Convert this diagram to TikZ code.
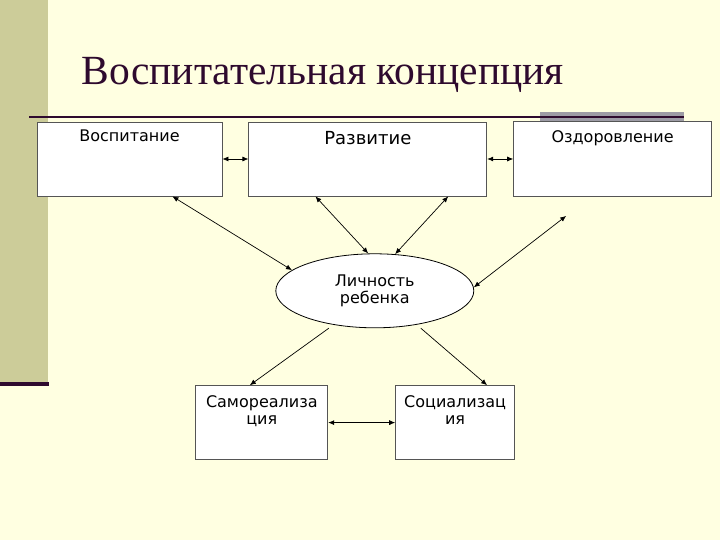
\documentclass[tikz,border=0pt]{standalone}
\usepackage{fontspec}
\setmainfont{DejaVu Sans}
\newfontfamily\titlefont{Liberation Serif}
\usetikzlibrary{arrows.meta, positioning, calc, shapes.geometric}
\definecolor{slidebg}{HTML}{FFFFE1}
\definecolor{stripe}{HTML}{CCCC99}
\definecolor{plum}{HTML}{2E0A2E}
\definecolor{bargray}{HTML}{9D9BA5}
\definecolor{boxline}{HTML}{555555}

\begin{document}
\begin{tikzpicture}[
  x=1bp, y=-1bp,
  >={Latex[length=6bp,width=5bp]},
  every node/.style={font=\fontsize{16bp}{17.5bp}\selectfont},
  block/.style={draw=boxline, fill=white, line width=0.8bp, inner sep=0pt,
                align=center, text height=20bp, text depth=54bp},
  person/.style={ellipse, draw=black, fill=white, line width=0.8bp,
                 inner sep=0pt, minimum width=198bp, minimum height=74bp,
                 align=center},
  link/.style={<->, line width=0.7bp, color=black},
  oneway/.style={->, line width=0.7bp, color=black}
]
  % slide background
  \fill[slidebg] (0,0) rectangle (720,540);
  \useasboundingbox (0,0) rectangle (720,540);
  \fill[stripe] (0,0) rectangle (48,384);
  \draw[plum, line width=4bp] (0,384) -- (49,384);

  % title and rule
  \node[anchor=base west, inner sep=0pt, text=plum,
        font=\titlefont\fontsize{41.5bp}{41.5bp}\selectfont] (title) at (81.7,85)
    {Воспитательная концепция};
  \fill[bargray] (540,111.7) rectangle (684,121.7);
  \draw[plum, line width=1.2bp] (29,117) -- (684,117);

  % top row
  \node[block, minimum width=185bp] (vosp) at (129.5,159) {Воспитание};
  \node[block, minimum width=238bp, right=26bp of vosp,
        font=\fontsize{18bp}{20bp}\selectfont,
        text height=22.5bp, text depth=51.5bp] (razv) {Развитие};
  \node[block, minimum width=198bp, right=26bp of razv,
        text height=21bp, text depth=54bp] (ozd) {Оздоровление};

  % centre
  \node[person, below=57bp of razv, xshift=7bp] (ell) {Личность\\ребенка};

  % bottom row (multi-line: baseline is the last line)
  \node[block, minimum width=132bp, below=57bp of ell, xshift=-113bp,
        text height=39bp, text depth=35bp] (samo) {Самореализа\\ция};
  \node[block, minimum width=119bp, right=67bp of samo,
        text height=39bp, text depth=35bp] (soc) {Социализац\\ия};

  \draw[link] (vosp) -- (razv);
  \draw[link] (razv) -- (ozd);
  \draw[link] ($(vosp.south east)+(-50,0)$) -- (ell.166);
  \draw[link] ($(razv.south west)+(67,0)$) -- (ell.100);
  \draw[link] ($(razv.south east)+(-39,0)$) -- (ell.61);
  \draw[link] ($(ozd.south west)+(53,19)$) -- (ell.2);
  \draw[oneway] ($(ell.south)+(-46,0)$) -- ($(samo.north)+(-12,0)$);
  \draw[oneway] ($(ell.south)+(46,0)$) -- ($(soc.north)+(32,0)$);
  \draw[link] (samo) -- (soc);
\end{tikzpicture}
\end{document}
